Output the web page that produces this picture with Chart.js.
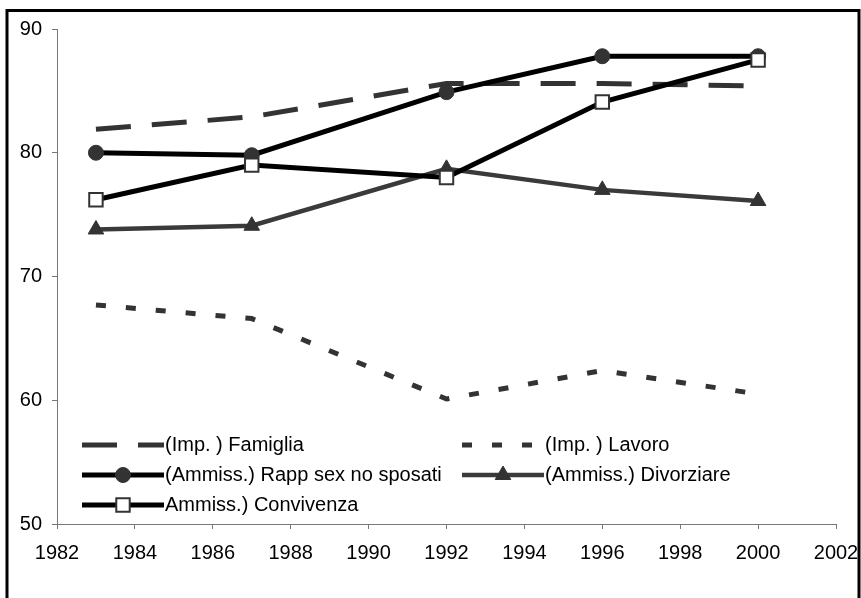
<!DOCTYPE html>
<html lang="it">
<head>
<meta charset="UTF-8">
<title>Ammissibilità e importanza</title>
<script src="https://cdn.jsdelivr.net/npm/chart.js"></script>
<style>
  body { margin: 0; background: #fff; }
  #wrap { width: 861px; height: 598px; }
</style>
</head>
<body>
<div id="wrap"><canvas id="chart" width="861" height="598"></canvas></div>
<script>
    // dati
    const anni = [1983, 1987, 1992, 1996, 2000];
    const famiglia = [81.9, 82.9, 85.6, 85.6, 85.4];
    const lavoro = [67.7, 66.6, 60.1, 62.4, 60.5];
    const rappSex = [80.0, 79.8, 84.9, 87.8, 87.8];
    const divorziare = [73.8, 74.1, 78.7, 77.0, 76.1];
    const convivenza = [76.2, 79.0, 78.0, 84.1, 87.5];

    const xTicks = [1982, 1984, 1986, 1988, 1990, 1992, 1994, 1996, 1998, 2000, 2002];
    const yTicks = [50, 60, 70, 80, 90];

    const font = { family: '"Liberation Sans", Arial, sans-serif', size: 20 };
    const axisGray = '#777777';

    const punti = serie => anni.map((a, i) => ({ x: a, y: serie[i] }));

    const datasets = [
        {
            label: '(Imp. ) Famiglia',
            data: punti(famiglia),
            borderColor: '#333333',
            borderWidth: 5,
            borderDash: [35, 21],
            pointRadius: 0,
            order: 5
        },
        {
            label: '(Imp. ) Lavoro',
            data: punti(lavoro),
            borderColor: '#333333',
            borderWidth: 5,
            borderDash: [10, 20],
            pointRadius: 0,
            order: 4
        },
        {
            label: '(Ammiss.) Rapp sex no sposati',
            data: punti(rappSex),
            borderColor: '#000000',
            borderWidth: 5,
            pointStyle: 'circle',
            pointRadius: 7.5,
            pointBackgroundColor: '#333333',
            pointBorderColor: '#333333',
            pointBorderWidth: 1,
            order: 3
        },
        {
            label: '(Ammiss.) Divorziare',
            data: punti(divorziare),
            borderColor: '#3a3a3a',
            borderWidth: 4.5,
            pointStyle: 'triangle',
            pointRadius: 9,
            pointBackgroundColor: '#333333',
            pointBorderColor: '#333333',
            pointBorderWidth: 1,
            order: 2
        },
        {
            label: 'Ammiss.) Convivenza',
            data: punti(convivenza),
            borderColor: '#000000',
            borderWidth: 5,
            pointStyle: 'rect',
            pointRadius: 9.5,
            pointBackgroundColor: '#ffffff',
            pointBorderColor: '#333333',
            pointBorderWidth: 2,
            order: 1
        }
    ];
    datasets.forEach(d => { d.tension = 0; d.fill = false; d.pointHoverRadius = d.pointRadius; });

    // posizioni della legenda (colonna, riga) come nell'originale
    const legendaPos = [[0, 0], [1, 0], [0, 1], [1, 1], [0, 2]];

    function marker(ctx, ds, x, y) {
        const r = ds.pointRadius;
        if (!r) return;
        ctx.save();
        ctx.setLineDash([]);
        ctx.fillStyle = ds.pointBackgroundColor;
        ctx.strokeStyle = ds.pointBorderColor;
        ctx.lineWidth = ds.pointBorderWidth;
        ctx.beginPath();
        if (ds.pointStyle === 'circle') {
            ctx.arc(x, y, r, 0, Math.PI * 2);
        } else if (ds.pointStyle === 'triangle') {
            let a = 0;
            ctx.moveTo(x + Math.sin(a) * r, y - Math.cos(a) * r);
            a += Math.PI * 2 / 3;
            ctx.lineTo(x + Math.sin(a) * r, y - Math.cos(a) * r);
            a += Math.PI * 2 / 3;
            ctx.lineTo(x + Math.sin(a) * r, y - Math.cos(a) * r);
            ctx.closePath();
        } else {
            const s = Math.SQRT1_2 * r;
            ctx.rect(x - s, y - s, 2 * s, 2 * s);
        }
        ctx.fill();
        ctx.stroke();
        ctx.restore();
    }

    const cornice = {
        id: 'cornice',
        beforeDraw(chart) {
            const ctx = chart.ctx;
            ctx.save();
            ctx.fillStyle = '#ffffff';
            ctx.fillRect(0, 0, chart.width, chart.height);
            ctx.strokeStyle = '#000000';
            ctx.lineWidth = 3;
            ctx.strokeRect(7, 10.5, 852, 620);
            ctx.restore();
        }
    };

    const legenda = {
        id: 'legenda',
        afterDatasetsDraw(chart) {
            const ctx = chart.ctx;
            const area = chart.chartArea;
            const colX = [area.left + 25, area.left + 405];
            const righe = [area.bottom - 79, area.bottom - 49, area.bottom - 19];
            const lung = 82;
            chart.data.datasets.forEach((ds, i) => {
                const [c, r] = legendaPos[i];
                const x0 = colX[c];
                const y = righe[r];
                ctx.save();
                ctx.strokeStyle = ds.borderColor;
                ctx.lineWidth = ds.borderWidth;
                ctx.setLineDash(ds.borderDash || []);
                ctx.beginPath();
                ctx.moveTo(x0, y);
                ctx.lineTo(x0 + lung, y);
                ctx.stroke();
                ctx.restore();
                marker(ctx, ds, x0 + lung / 2, y);
                ctx.save();
                ctx.fillStyle = '#000000';
                ctx.font = font.size + 'px ' + font.family;
                ctx.textBaseline = 'middle';
                ctx.fillText(ds.label, x0 + lung + 1, y);
                ctx.restore();
            });
        }
    };

    new Chart(document.getElementById('chart'), {
        type: 'line',
        data: { datasets },
        options: {
            responsive: false,
            animation: false,
            events: [],
            layout: { padding: { top: 29, right: 25, left: 0, bottom: 0 } },
            plugins: {
                legend: { display: false },
                tooltip: { enabled: false }
            },
            scales: {
                x: {
                    type: 'linear',
                    min: xTicks[0],
                    max: xTicks[xTicks.length - 1],
                    afterBuildTicks: s => { s.ticks = xTicks.map(v => ({ value: v })); },
                    afterFit: s => { s.height = 74; s.paddingLeft = 0; s.paddingRight = 0; },
                    grid: { drawOnChartArea: false, tickLength: 5, color: axisGray },
                    border: { color: axisGray, width: 1 },
                    ticks: { font, color: '#000000', padding: 12, maxRotation: 0, autoSkip: false, callback: v => String(v) }
                },
                y: {
                    min: yTicks[0],
                    max: yTicks[yTicks.length - 1],
                    afterBuildTicks: s => { s.ticks = yTicks.map(v => ({ value: v })); },
                    afterFit: s => { s.width = 57; s.paddingTop = 0; s.paddingBottom = 0; },
                    grid: { drawOnChartArea: false, tickLength: 5, color: axisGray },
                    border: { color: axisGray, width: 1 },
                    ticks: { font, color: '#000000', padding: 10 }
                }
            }
        },
        plugins: [cornice, legenda]
    });
</script>
</body>
</html>
